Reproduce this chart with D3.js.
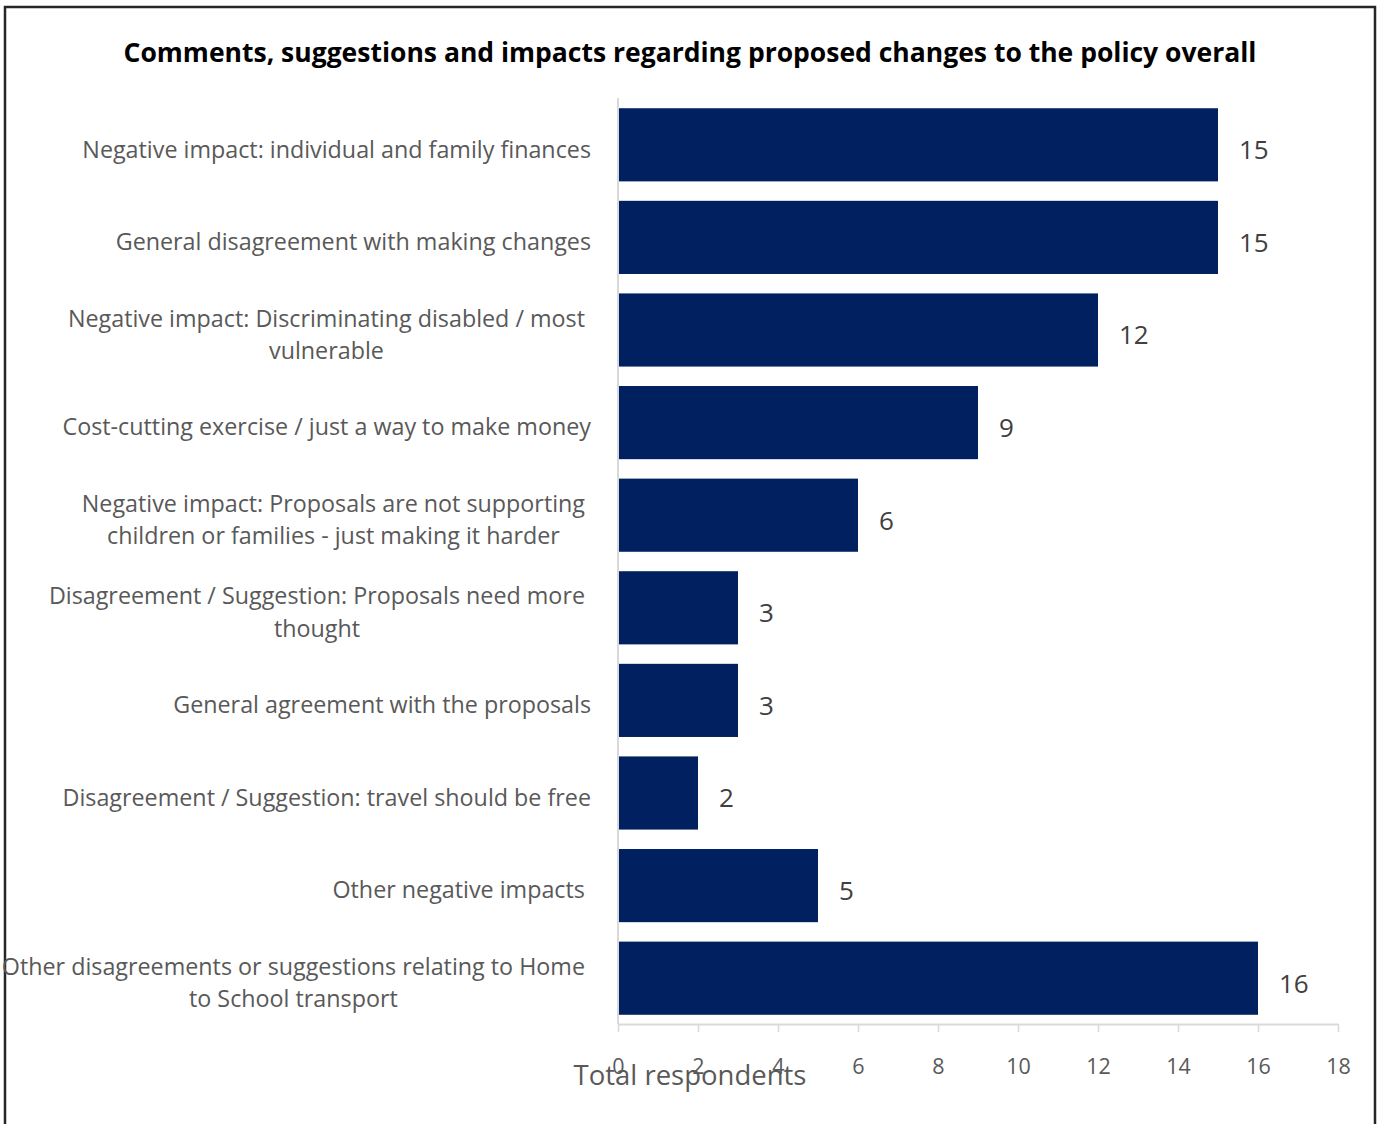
<!DOCTYPE html>
<html><head><meta charset="utf-8">
<script src="https://cdn.jsdelivr.net/npm/d3@7"></script>
<style>
html,body{margin:0;padding:0;background:#fff;}
svg{display:block;}
text{font-family:"Open Sans",Lato,sans-serif;}
</style></head>
<body>
<svg id="chart" width="1378" height="1124"></svg>
<script>
const titleText = "Comments, suggestions and impacts regarding proposed changes to the policy overall";
const categories = [
  ["Negative impact: individual and family finances"],
  ["General disagreement with making changes"],
  ["Negative impact: Discriminating disabled / most", "vulnerable"],
  ["Cost-cutting exercise / just a way to make money"],
  ["Negative impact: Proposals are not supporting", "children or families - just making it harder"],
  ["Disagreement / Suggestion: Proposals need more", "thought"],
  ["General agreement with the proposals"],
  ["Disagreement / Suggestion: travel should be free"],
  ["Other negative impacts "],
  ["Other disagreements or suggestions relating to Home", "to School transport"]
];
const values = [15, 15, 12, 9, 6, 3, 3, 2, 5, 16];
const xTicks = [0, 2, 4, 6, 8, 10, 12, 14, 16, 18];
const axisTitle = "Total respondents";

const svg = d3.select("#chart");
svg.append("rect").attr("width",1378).attr("height",1124).attr("fill","#fff");
// frame (no bottom edge visible)
svg.append("path").attr("d","M5,1124 V7 H1375 V1124").attr("fill","none").attr("stroke","#262626").attr("stroke-width",2.5);

svg.append("text").attr("x",690).attr("y",62).attr("text-anchor","middle")
  .attr("font-size",26.5).attr("font-weight","bold").attr("fill","#000").text(titleText);

const x = d3.scaleLinear().domain([0,18]).range([618,1338]);
const y = d3.scaleBand().domain(d3.range(categories.length)).range([98.5,1024.5]).paddingInner(0.21).paddingOuter(0.105);

// x axis
const xa = svg.append("g").attr("transform","translate(0,1024)")
  .call(d3.axisBottom(x).tickValues(xTicks).tickSize(8).tickPadding(27).tickSizeOuter(0));
xa.select(".domain").attr("stroke","#d9d9d9").attr("stroke-width",2);
xa.selectAll(".tick line").attr("stroke","#d9d9d9").attr("stroke-width",1.5);
xa.selectAll(".tick text").attr("fill","#595959").attr("font-size",21.5).attr("font-family","'Open Sans',Lato,sans-serif");

// y axis line
svg.append("line").attr("x1",618).attr("x2",618).attr("y1",98).attr("y2",1024).attr("stroke","#d9d9d9").attr("stroke-width",2);

// bars
svg.append("g").selectAll("rect").data(values).join("rect")
  .attr("x",x(0)+1).attr("y",(d,i)=>y(i)).attr("width",d=>x(d)-x(0)-1).attr("height",y.bandwidth())
  .attr("fill","#002060");

// value labels
svg.append("g").selectAll("text").data(values).join("text")
  .attr("x",d=>x(d)+21).attr("y",(d,i)=>y(i)+y.bandwidth()/2+5).attr("dy","0.36em")
  .attr("font-size",26).attr("fill","#404040").text(d=>d);

// category labels
const lh = 32.5;
const fs = 23.3;
const lg = svg.append("g");
categories.forEach((lines,i)=>{
  const cy = y(i)+y.bandwidth()/2+4.5;
  const g = lg.append("g");
  if(lines.length===1){
    g.append("text").attr("x",591).attr("y",cy).attr("dy","0.36em").attr("text-anchor","end")
      .attr("font-size",fs).attr("fill","#595959").style("white-space","pre").text(lines[0]);
  } else {
    const ts = lines.map((l,k)=>g.append("text").attr("y",cy+(k-(lines.length-1)/2)*lh).attr("dy","0.36em")
      .attr("text-anchor","middle").attr("font-size",fs).attr("fill","#595959").text(l));
    const w = d3.max(ts,t=>t.node().getComputedTextLength());
    ts.forEach(t=>t.attr("x",585-w/2));
  }
});

svg.append("text").attr("x",690).attr("y",1075).attr("dy","0.36em").attr("text-anchor","middle")
  .attr("font-size",27.5).attr("fill","#595959").text(axisTitle);
</script>
</body></html>
